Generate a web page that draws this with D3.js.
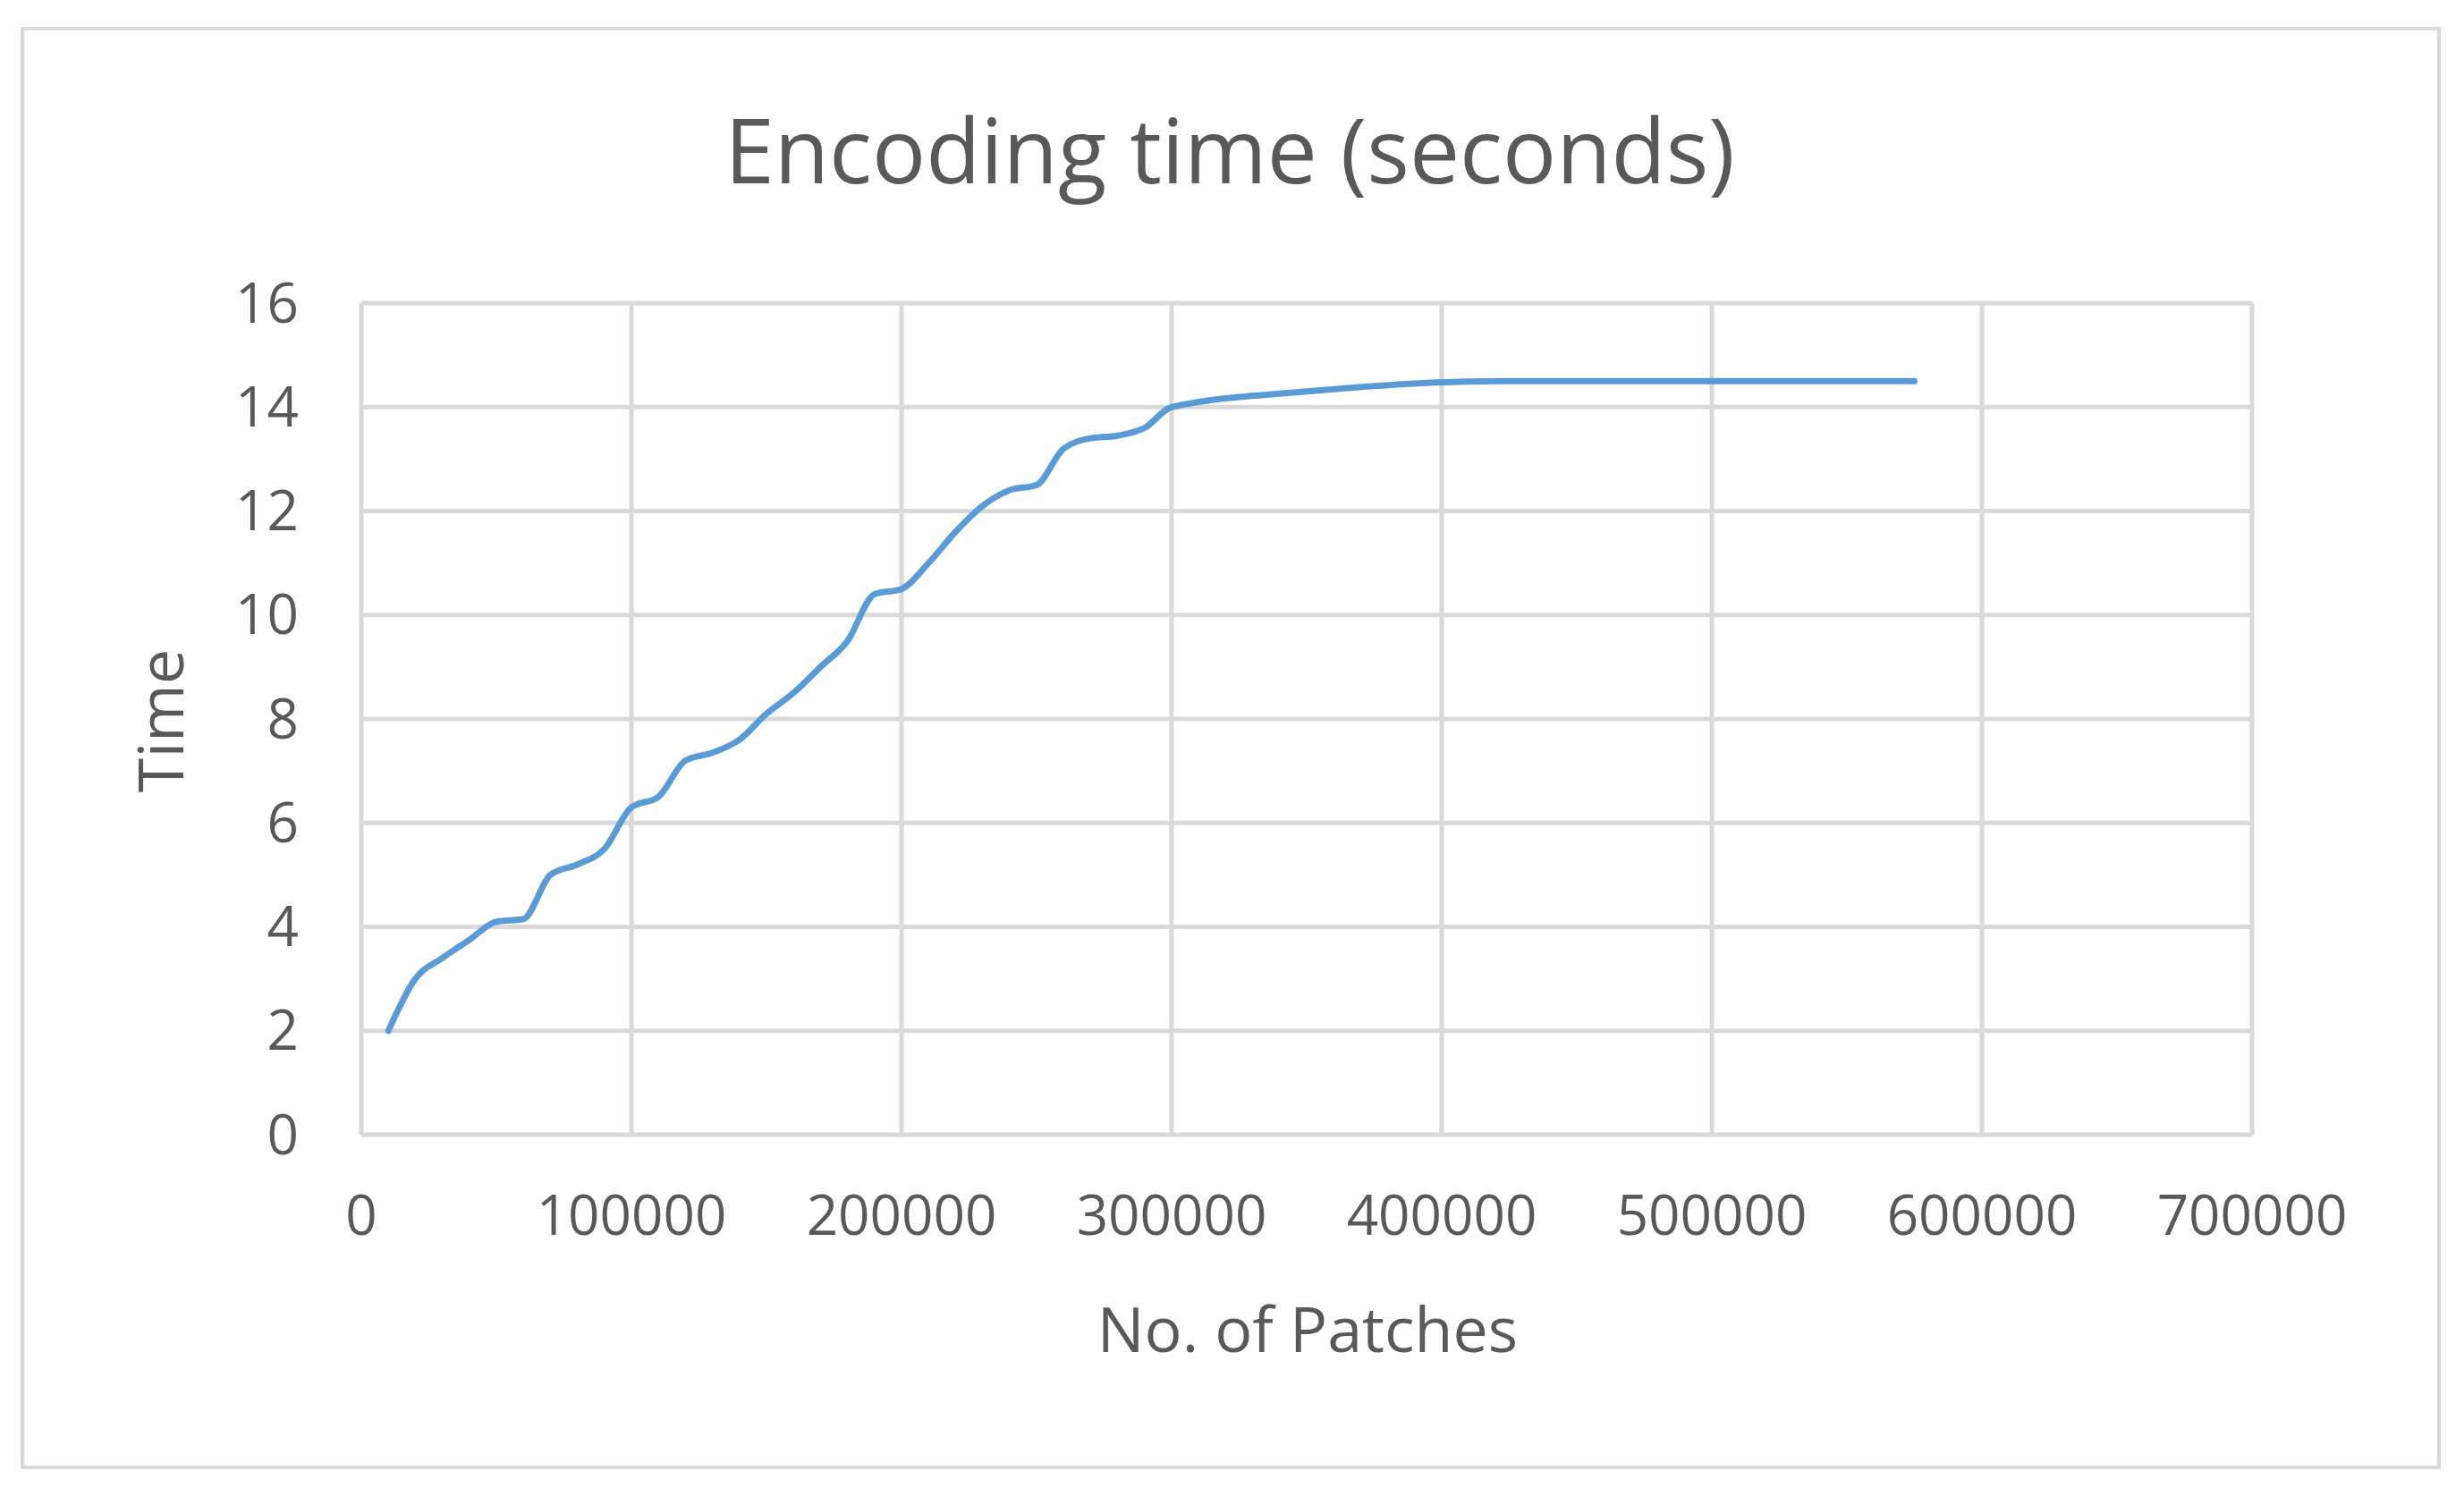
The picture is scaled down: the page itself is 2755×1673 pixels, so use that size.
<!DOCTYPE html>
<html><head><meta charset="utf-8">
<script src="https://cdn.jsdelivr.net/npm/d3@7"></script>
<style>body{margin:0;background:#fff}text{font-family:"Open Sans",sans-serif;fill:#595959}</style>
</head><body><div id="chart"></div>
<script>
const patches = [10000,20000,30000,40000,50000,60000,70000,80000,90000,100000,110000,120000,130000,140000,150000,160000,170000,180000,190000,200000,210000,220000,230000,240000,250000,260000,270000,280000,290000,300000,350000,420000,575000];
const times = [2,3,3.4,3.75,4.1,4.15,5,5.2,5.5,6.3,6.5,7.2,7.35,7.6,8.1,8.5,9,9.5,10.4,10.5,11,11.6,12.1,12.4,12.5,13.2,13.4,13.45,13.6,14,14.3,14.5,14.5];
const xTicks = [0,100000,200000,300000,400000,500000,600000,700000];
const yTicks = [0,2,4,6,8,10,12,14,16];

const W = 2755, H = 1673;
const svg = d3.select("#chart").append("svg").attr("width", W).attr("height", H);
svg.append("rect").attr("x",25).attr("y",32).attr("width",2702).attr("height",1609)
  .attr("fill","#fff").attr("stroke","#d9d9d9").attr("stroke-width",4);

const x = d3.scaleLinear().domain([0,700000]).range([404,2518]);
const y = d3.scaleLinear().domain([0,16]).range([1269,339]);

// grid
svg.append("g").selectAll("line").data(yTicks).join("line")
  .attr("x1",x(0)).attr("x2",x(700000)).attr("y1",d=>y(d)).attr("y2",d=>y(d))
  .attr("stroke","#d9d9d9").attr("stroke-width",5);
svg.append("g").selectAll("line").data(xTicks).join("line")
  .attr("y1",y(0)).attr("y2",y(16)).attr("x1",d=>x(d)).attr("x2",d=>x(d))
  .attr("stroke","#d9d9d9").attr("stroke-width",5);

// tick labels
svg.append("g").selectAll("text").data(yTicks).join("text")
  .attr("x",x(0)-70).attr("y",d=>y(d)).attr("dy","0.35em").attr("text-anchor","end")
  .attr("font-size",62).text(d=>d);
svg.append("g").selectAll("text").data(xTicks).join("text")
  .attr("x",d=>x(d)).attr("y",y(0)+112).attr("text-anchor","middle")
  .attr("font-size",62).text(d=>d);

// line
const pts = patches.map((p,i)=>[p,times[i]]);
svg.append("path").datum(pts)
  .attr("d", d3.line().x(d=>x(d[0])).y(d=>y(d[1])).curve(d3.curveMonotoneX))
  .attr("fill","none").attr("stroke","#5B9BD5").attr("stroke-width",7).attr("stroke-linecap","round");

// titles
svg.append("text").attr("x",1375).attr("y",205).attr("text-anchor","middle")
  .attr("font-size",100).text("Encoding time (seconds)");
svg.append("text").attr("x",1462).attr("y",1512).attr("text-anchor","middle")
  .attr("font-size",70).text("No. of Patches");
svg.append("text").attr("transform","translate(205,806) rotate(-90)").attr("text-anchor","middle")
  .attr("font-size",70).text("Time");
</script></body></html>
